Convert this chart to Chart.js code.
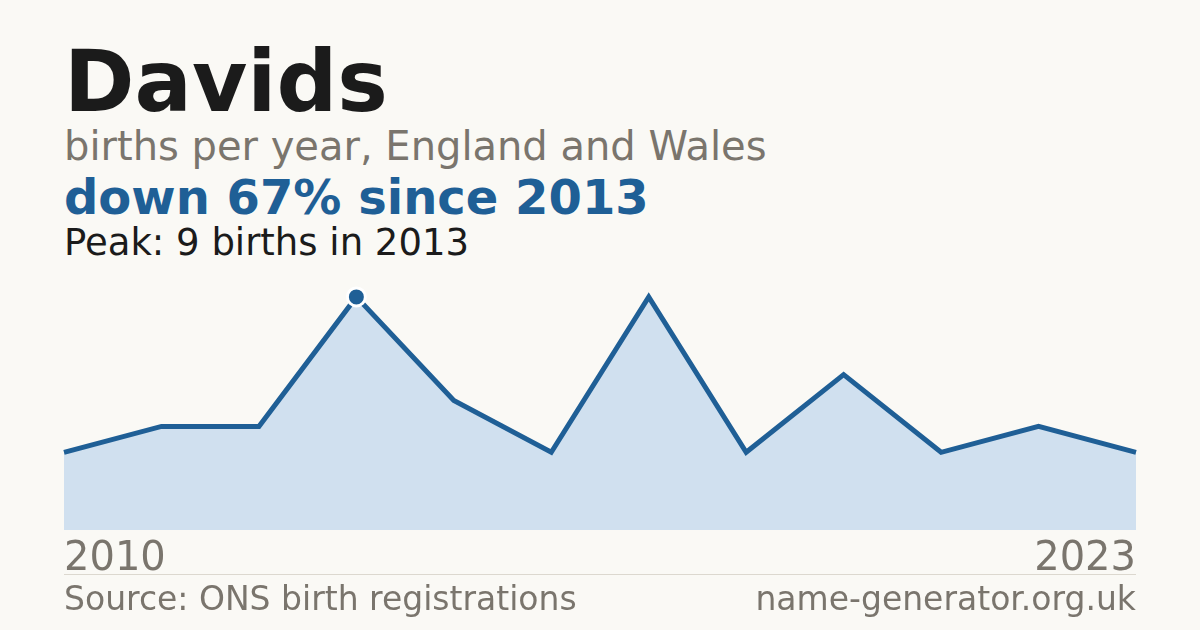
<!DOCTYPE html>
<html>
<head>
<meta charset="utf-8">
<script src="https://cdn.jsdelivr.net/npm/chart.js@4"></script>
<style>
  html, body { margin: 0; padding: 0; }
  body { width: 1200px; height: 630px; background: #faf9f5; position: relative; overflow: hidden;
         font-family: "DejaVu Sans", sans-serif; }
  .t { position: absolute; left: 64px; white-space: nowrap; line-height: 1; }
  #title { top: 39px; font-size: 85px; font-weight: bold; color: #1b1b1b; }
  #sub { top: 126px; font-size: 40px; color: #7a756d; }
  #trend { top: 173px; font-size: 48px; font-weight: bold; color: #1f5f96; }
  #peak { top: 224px; font-size: 37px; color: #1b1b1b; }
  #rule { position: absolute; left: 64px; width: 1072px; top: 574px; height: 1px; background: #dcd8cf; }
  .foot { position: absolute; top: 582px; font-size: 33px; color: #7a756d; line-height: 1; white-space: nowrap; }
  #src { left: 64px; }
  #site { right: 64px; }
  #wrap { position: absolute; left: 0; top: 0; width: 1200px; height: 630px; }
</style>
</head>
<body>
<div id="title" class="t">Davids</div>
<div id="sub" class="t">births per year, England and Wales</div>
<div id="trend" class="t">down 67% since 2013</div>
<div id="peak" class="t">Peak: 9 births in 2013</div>
<div id="wrap"><canvas id="chart"></canvas></div>
<div id="rule"></div>
<div id="src" class="foot">Source: ONS birth registrations</div>
<div id="site" class="foot">name-generator.org.uk</div>
<script>
// births per year (years with too few births are left out by ONS)
const years = ['2010', '2011', '2012', '2013', '2014', '2015', '2016', '2017', '2018', '2019', '2022', '2023'];
const births = [3, 4, 4, 9, 5, 3, 9, 3, 6, 3, 4, 3];
const peakIndex = 3;

const blue = '#1f5f96';

const ctx = document.getElementById('chart').getContext('2d');
const chart = new Chart(ctx, {
  type: 'line',
  data: {
    labels: years,
    datasets: [{
      data: births,
      borderColor: blue,
      borderWidth: 5,
      backgroundColor: '#d0e0ef',
      fill: 'origin',
      tension: 0,
      clip: false,
      pointRadius: c => c.dataIndex === peakIndex ? 9 : 0,
      pointHoverRadius: c => c.dataIndex === peakIndex ? 9 : 0,
      pointBackgroundColor: blue,
      pointBorderColor: '#ffffff',
      pointBorderWidth: 3
    }]
  },
  options: {
    responsive: false,
    animation: false,
    devicePixelRatio: 1,
    layout: { padding: { left: 64, right: 64, top: 271, bottom: 10 } },
    plugins: { legend: { display: false }, tooltip: { enabled: false } },
    scales: {
      x: {
        offset: false,
        grid: { display: false, drawTicks: false },
        border: { display: false },
        ticks: {
          autoSkip: false,
          maxRotation: 0,
          align: 'inner',
          padding: 6,
          color: '#7a756d',
          font: { family: 'DejaVu Sans', size: 40 },
          callback: function (v, i) {
            return (i === 0 || i === years.length - 1) ? years[i] : '';
          }
        }
      },
      y: { display: false, min: 0, max: 10 }
    }
  }
});
chart.canvas.style.width = '1200px';
chart.canvas.style.height = '630px';
chart.resize(1200, 630);
</script>
</body>
</html>
